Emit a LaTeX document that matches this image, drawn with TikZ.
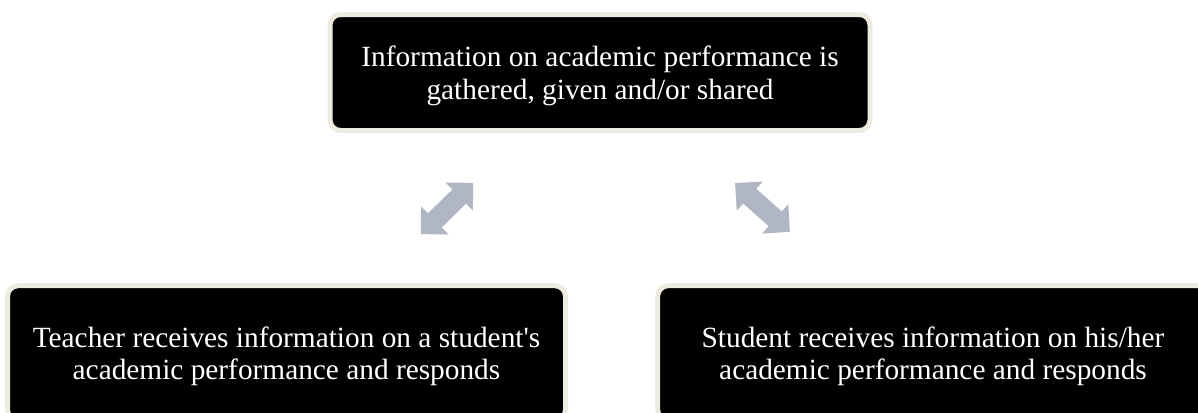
\documentclass[tikz,border=0pt]{standalone}
\usepackage{fontspec}
\setmainfont{Liberation Serif}
\usetikzlibrary{shapes.arrows}
\definecolor{boxrim}{RGB}{238,236,225}
\definecolor{linkgray}{RGB}{176,182,196}
\begin{document}
\begin{tikzpicture}[x=0.75pt,y=-0.75pt,
    infobox/.style={draw=boxrim,line width=3.75pt,fill=black,rounded corners=8pt,inner sep=0pt},
    infotext/.style={text=white,align=center,inner sep=0pt,yshift=-2.5pt,
      font=\fontsize{22}{24.3}\selectfont},
    linkarrow/.style={double arrow,fill=linkgray,inner xsep=0pt,inner ysep=7.2pt,
      minimum height=55pt,double arrow head extend=7.3pt,double arrow tip angle=90}]
        % fix the page
        \useasboundingbox (0,0) rectangle (1198,412);
        % the three boxes
        \node[infobox,minimum width=405pt,minimum height=87pt] (gather) at (600,72.5) {};
        \node[infotext] (gathertext) at (gather)
          {Information on academic performance is\\gathered, given and/or shared};
        \node[infobox,minimum width=418.5pt,minimum height=101pt] (teacher) at (286.5,353) {};
        \node[infotext] (teachertext) at (teacher)
          {Teacher receives information on a student\textquotesingle s\\academic performance and responds};
        \node[infobox,minimum width=413pt,minimum height=101pt] (student) at (933,353) {};
        \node[infotext] (studenttext) at (student)
          {Student receives information on his/her\\academic performance and responds};
        % the two links
        \node[linkarrow,rotate=44.4] (leftlink) at (447,208.5) {};
        \node[linkarrow,rotate=-41.7] (rightlink) at (762.5,207.5) {};
\end{tikzpicture}
\end{document}
